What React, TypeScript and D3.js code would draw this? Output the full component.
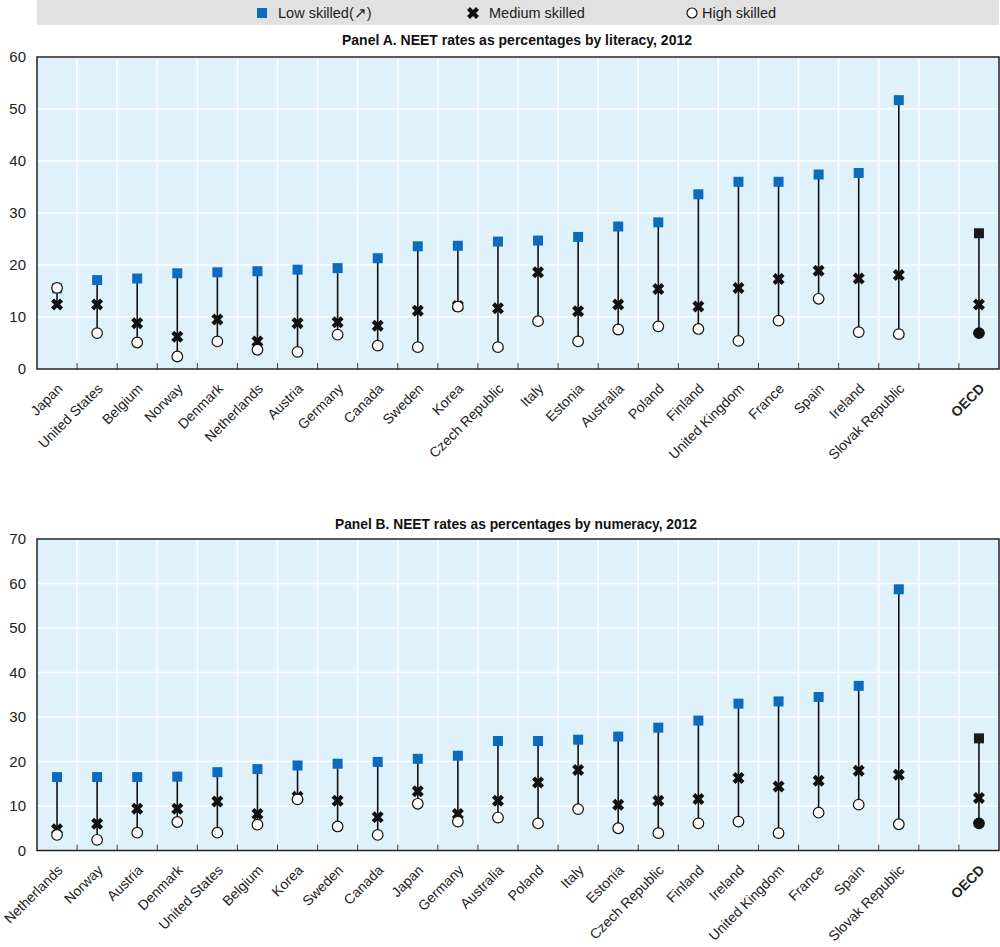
import React, { useEffect } from "react";
import * as d3 from "d3";

const countriesA = ["Japan","United States","Belgium","Norway","Denmark","Netherlands","Austria","Germany","Canada","Sweden","Korea","Czech Republic","Italy","Estonia","Australia","Poland","Finland","United Kingdom","France","Spain","Ireland","Slovak Republic"];
const lowA = [15.5,17.1,17.4,18.4,18.6,18.8,19.1,19.4,21.3,23.6,23.7,24.5,24.7,25.4,27.4,28.2,33.6,36.0,36.0,37.4,37.7,51.7];
const medA = [12.4,12.4,8.8,6.2,9.5,5.3,8.8,9.0,8.3,11.2,12.1,11.7,18.6,11.1,12.4,15.4,12.0,15.6,17.3,18.9,17.4,18.1];
const highA = [15.6,6.9,5.1,2.4,5.3,3.7,3.3,6.6,4.5,4.2,12.0,4.2,9.2,5.3,7.6,8.2,7.7,5.4,9.3,13.5,7.1,6.7];
const oecdA = { low: 26.1, med: 12.4, high: 6.9 };

const countriesB = ["Netherlands","Norway","Austria","Denmark","United States","Belgium","Korea","Sweden","Canada","Japan","Germany","Australia","Poland","Italy","Estonia","Czech Republic","Finland","Ireland","United Kingdom","France","Spain","Slovak Republic"];
const lowB = [16.5,16.5,16.5,16.6,17.6,18.3,19.1,19.5,19.9,20.6,21.3,24.6,24.6,24.9,25.6,27.6,29.2,33.0,33.5,34.5,37.0,58.7];
const medB = [4.8,6.0,9.4,9.4,11.0,8.2,12.1,11.2,7.5,13.3,8.2,11.2,15.3,18.1,10.3,11.2,11.6,16.3,14.4,15.7,17.9,17.0];
const highB = [3.5,2.4,4.0,6.4,4.0,5.8,11.5,5.4,3.5,10.5,6.5,7.4,6.1,9.3,5.0,3.9,6.1,6.5,3.9,8.5,10.3,5.9];
const oecdB = { low: 25.2, med: 11.8, high: 6.1 };

const ticksA = [0,10,20,30,40,50,60];
const ticksB = [0,10,20,30,40,50,60,70];

const legendItems = ["Low skilled(\u2197)", "Medium skilled", "High skilled"];
const titleA = "Panel A. NEET rates as percentages by literacy, 2012";
const titleB = "Panel B. NEET rates as percentages by numeracy, 2012";

const FONT = "'Liberation Sans', Arial, sans-serif";
const BLUE = "#0b6cbf";
const PLOT_BG = "#dff2fc";
const L = 37, R = 999;

const crossPath = d3.symbol().type(d3.symbolCross).size(90)() as string;

function Markers({ x, y, low, med, high, oecd }: any) {
  const vals = [low, med, high];
  const y1 = y(d3.min(vals)), y2 = y(d3.max(vals));
  return (
    <g transform={`translate(${x},0)`}>
      <line x1={0} x2={0} y1={y1} y2={y2} stroke="#111" strokeWidth={1.6} />
      <rect x={-5} y={y(low) - 5} width={10} height={10} fill={oecd ? "#1a1a1a" : BLUE} />
      <path d={crossPath} transform={`translate(0,${y(med)}) rotate(45)`} fill="#111" />
      <circle cx={0} cy={y(high)} r={5.3} fill={oecd ? "#111" : "#fff"} stroke="#111" strokeWidth={1.2} />
    </g>
  );
}

function Panel({ countries, low, med, high, oecd, ticks, max, top, bottom, title, titleY, titleX0, titleX1 }: any) {
  const slots = [...countries, "__blank__", "OECD"];
  const x = d3.scaleBand<string>().domain(slots).range([L, R]).padding(0);
  const y = d3.scaleLinear().domain([0, max]).range([bottom, top]);
  const bw = x.bandwidth();
  const bounds = slots.slice(1).map((s) => x(s) as number);
  return (
    <g>
      <text x={titleX0} y={titleY} textLength={titleX1 - titleX0} lengthAdjust="spacingAndGlyphs" fontFamily={FONT} fontWeight="bold" fontSize={15} fill="#111">{title}</text>
      <rect x={L} y={top} width={R - L} height={bottom - top} fill={PLOT_BG} />
      {ticks.map((t: number) => (
        <line key={"h" + t} x1={L} x2={R} y1={y(t)} y2={y(t)} stroke="#fff" strokeWidth={1.5} />
      ))}
      {bounds.map((bx, i) => (
        <line key={"v" + i} x1={bx} x2={bx} y1={top} y2={bottom} stroke="#fff" strokeWidth={1.5} />
      ))}
      {bounds.map((bx, i) => (
        <line key={"t" + i} x1={bx} x2={bx} y1={bottom} y2={bottom - 6} stroke="#333" strokeWidth={1} />
      ))}
      <rect x={L} y={top} width={R - L} height={bottom - top} fill="none" stroke="#222" strokeWidth={1.5} />
      {ticks.map((t: number) => (
        <text key={"yl" + t} x={26} y={y(t)} dy="0.35em" textAnchor="end" fontFamily={FONT} fontSize={15} fill="#222">{t}</text>
      ))}
      {countries.map((c: string, i: number) => (
        <Markers key={c} x={(x(c) as number) + bw / 2} y={y} low={low[i]} med={med[i]} high={high[i]} />
      ))}
      <Markers x={(x("OECD") as number) + bw / 2} y={y} low={oecd.low} med={oecd.med} high={oecd.high} oecd />
      {slots.filter((s) => s !== "__blank__").map((s) => {
        const cx = (x(s) as number) + bw / 2 + 3;
        const cy = bottom + 17;
        return (
          <text key={"xl" + s} transform={`translate(${cx},${cy}) rotate(-45)`} textAnchor="end" dy="0.35em"
            fontFamily={FONT} fontSize={14} fontWeight={s === "OECD" ? "bold" : "normal"} fill="#222">{s}</text>
        );
      })}
    </g>
  );
}

export default function App() {
  useEffect(() => {
    document.body.style.margin = "0";
  }, []);
  return (
    <svg width={1000} height={947} style={{ display: "block", background: "#fff" }}>
      <rect x={L} y={0} width={R - L} height={25} fill="#e1e1e1" />
      <rect x={257} y={8} width={10} height={10} fill={BLUE} />
      <text x={278} y={13} dy="0.35em" fontFamily={FONT} fontSize={14.5} fill="#222">{legendItems[0]}</text>
      <path d={crossPath} transform="translate(473,13) rotate(45)" fill="#111" />
      <text x={489} y={13} dy="0.35em" fontFamily={FONT} fontSize={14.5} fill="#222">{legendItems[1]}</text>
      <circle cx={692} cy={13} r={5} fill="#fff" stroke="#111" strokeWidth={1.2} />
      <text x={702} y={13} dy="0.35em" fontFamily={FONT} fontSize={14.5} fill="#222">{legendItems[2]}</text>
      <Panel countries={countriesA} low={lowA} med={medA} high={highA} oecd={oecdA} ticks={ticksA} max={60} top={57} bottom={369} title={titleA} titleY={45} titleX0={342} titleX1={692} />
      <Panel countries={countriesB} low={lowB} med={medB} high={highB} oecd={oecdB} ticks={ticksB} max={70} top={539} bottom={850.5} title={titleB} titleY={529} titleX0={335} titleX1={697} />
    </svg>
  );
}
